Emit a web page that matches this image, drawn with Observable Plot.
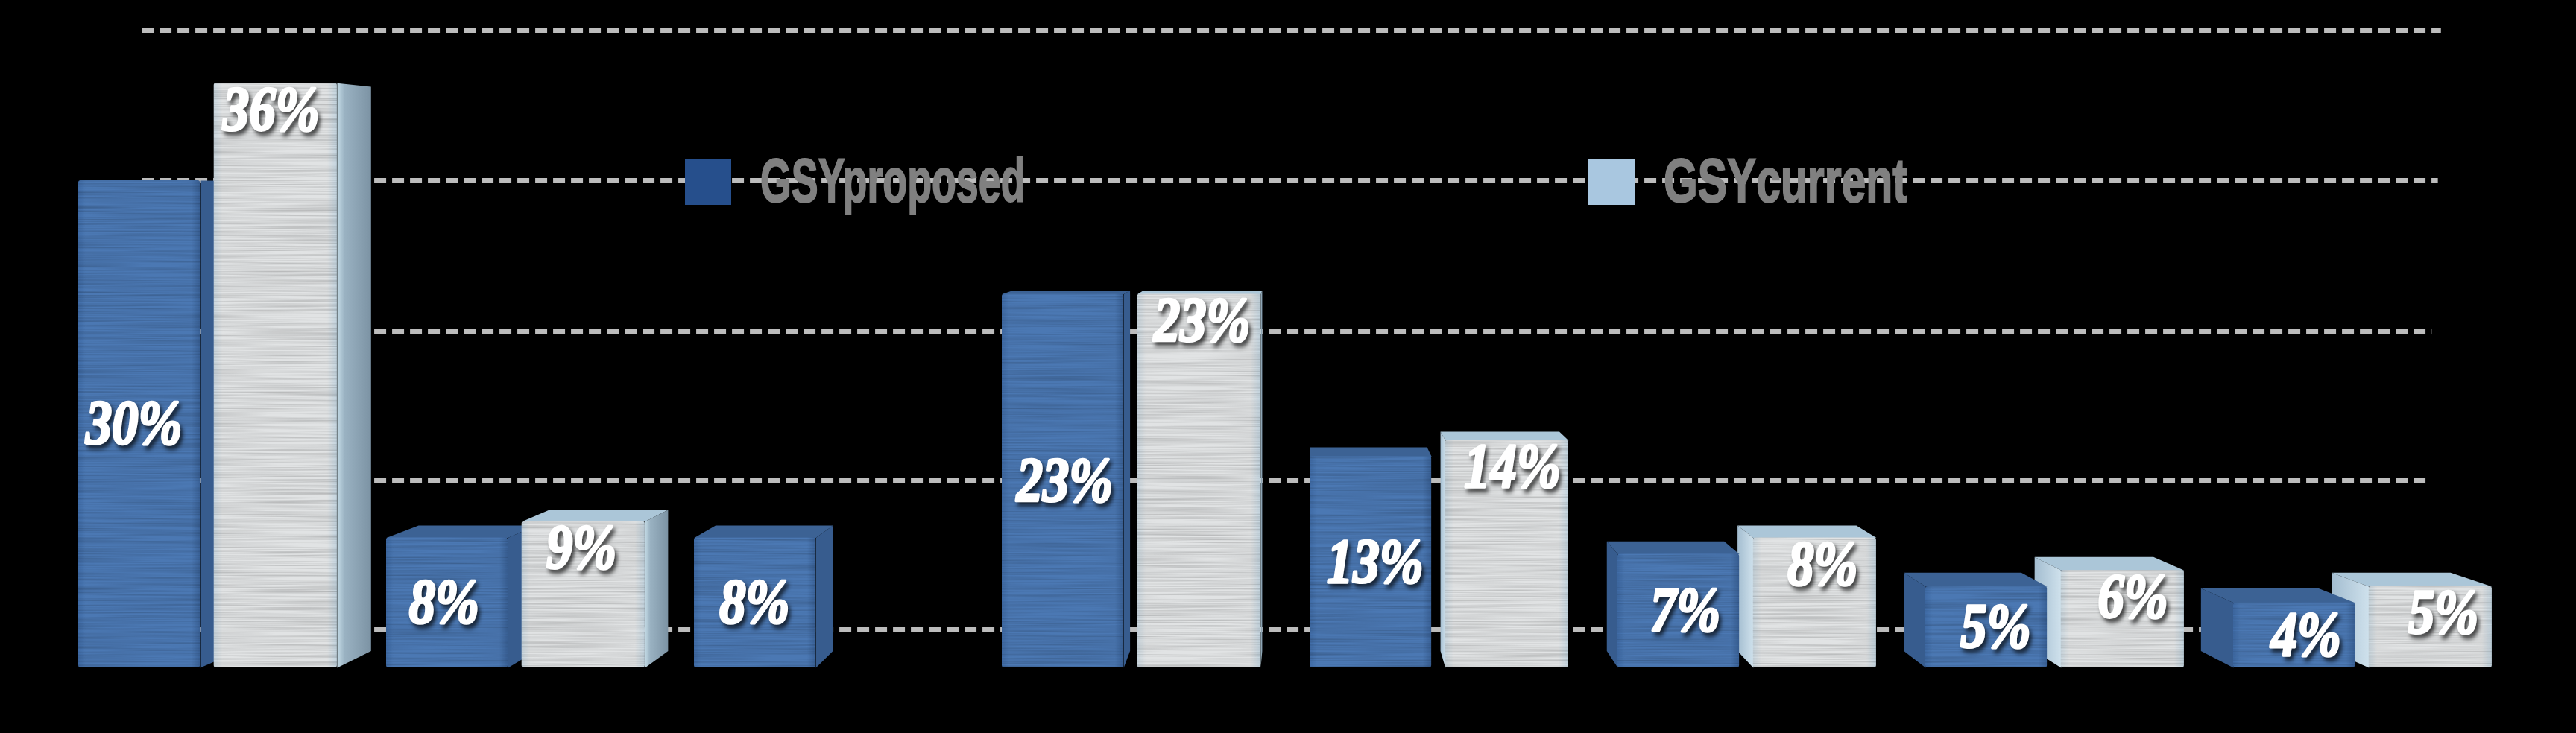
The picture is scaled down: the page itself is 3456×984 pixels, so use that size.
<!DOCTYPE html>
<html><head><meta charset="utf-8">
<script src="https://cdn.jsdelivr.net/npm/d3@7"></script>
<script src="https://cdn.jsdelivr.net/npm/@observablehq/plot@0.6"></script>
<style>
html,body{margin:0;background:#000;overflow:hidden;width:3456px;height:984px}
#wrap{position:relative;width:3456px;height:984px}
.front{filter:url(#tex)}
.lab text{filter:drop-shadow(4px 5px 3px rgba(0,0,0,.7))}
.sw{position:absolute;top:213px;width:62px;height:62px}
.lg{position:absolute;top:192px;font:bold 84px "Liberation Sans",sans-serif;color:#808080;transform-origin:0 0;white-space:nowrap;line-height:1.2;-webkit-text-stroke:2px #808080}
</style></head><body>
<svg width="0" height="0" style="position:absolute"><defs>
<filter id="tex" x="0" y="0" width="1" height="1" color-interpolation-filters="sRGB">
<feTurbulence type="fractalNoise" baseFrequency="0.006 0.5" numOctaves="2" seed="4" result="n"/>
<feColorMatrix in="n" type="matrix" values="0 0 0 0 0 0 0 0 0 0 0 0 0 0 0 0.36 0 0 0 -0.13" result="d"/>
<feComposite in="d" in2="SourceAlpha" operator="in" result="dk"/>
<feMerge><feMergeNode in="SourceGraphic"/><feMergeNode in="dk"/></feMerge>
</filter>
<linearGradient id="lightR"><stop offset="0" stop-color="#c4dbe6"/><stop offset=".22" stop-color="#9ab2c2"/><stop offset="1" stop-color="#7c93a4"/></linearGradient>
<linearGradient id="lightL"><stop offset="0" stop-color="#a3bdd0"/><stop offset="1" stop-color="#cfe1ec"/></linearGradient>
<linearGradient id="blueF"><stop offset="0" stop-color="#3f6ba6"/><stop offset=".06" stop-color="#4b78b3"/><stop offset=".93" stop-color="#4b78b3"/><stop offset="1" stop-color="#3a6298"/></linearGradient>
<linearGradient id="lightF"><stop offset="0" stop-color="#c9d6de"/><stop offset=".07" stop-color="#e1e3e4"/><stop offset=".92" stop-color="#e1e3e4"/><stop offset="1" stop-color="#c2d3de"/></linearGradient>
</defs></svg>
<div id="wrap"></div>
<script>
const proposed = [30, 8, 8, 23, 13, 7, 5, 4];
const current = [36, 9, null, 23, 14, 8, 6, 5];
const gridValues = [39.27, 30, 20.69, 11.51, 2.34];
const gridStart = [0.206, 0.206, 0.206, 0.206, 0.206];
const gridEnd = [7.675, 7.665, 7.645, 7.63, 7.62];
const seriesSpan = {proposed: [0, 0.395], current: [0.44, 0.84]};
const vanish = {x: 3.98, y: 29.6, k: 0.035};
const look = {
  proposed: {front: "url(#blueF)", side: "#375c8e", top: "#3c6294"},
  current: {front: "url(#lightF)", right: "url(#lightR)", left: "url(#lightL)", top: "#abc6d8"}
};

const bars = [];
proposed.forEach((v, i) => bars.push({s: "proposed", i, v}));
current.forEach((v, i) => { if (v != null) bars.push({s: "current", i, v}); });
bars.forEach(b => {
  b.x1 = b.i + seriesSpan[b.s][0];
  b.x2 = b.i + seriesSpan[b.s][1];
  b.cx = (b.x1 + b.x2) / 2;
  b.lx = b.cx + (b.cx - vanish.x) * 0.008;
  b.ly = b.s === "proposed" ? b.v / 2 : b.v - 1.65;
  b.label = b.v + "%";
});
const bx = x => x + (vanish.x - x) * vanish.k;
const by = y => y + (vanish.y - y) * vanish.k;
// paint from the outside towards the vanishing point
bars.sort((a, b) => Math.abs(b.cx - vanish.x) - Math.abs(a.cx - vanish.x));

function poly(pts) { return pts.map(([x, y]) => ({x, y})); }
const faces = bars.flatMap(b => {
  const L = look[b.s], out = [];
  const face = (pts, fill) => out.push(Plot.line(poly(pts), {x: "x", y: "y", fill, stroke: "none", curve: "linear-closed"}));
  if (b.v < vanish.y) {
    face([[b.x1, b.v], [b.x2, b.v], [bx(b.x2), by(b.v)], [bx(b.x1), by(b.v)]], L.top);
  }
  if (b.x2 < vanish.x) {
    face([[b.x2, 0], [b.x2, b.v], [bx(b.x2), by(b.v)], [bx(b.x2), by(0)]], L.side || L.right);
  }
  if (b.x1 > vanish.x) {
    face([[b.x1, 0], [b.x1, b.v], [bx(b.x1), by(b.v)], [bx(b.x1), by(0)]], L.side || L.left);
  }
  out.push(Plot.rect([b], {x1: "x1", x2: "x2", y1: 0, y2: "v", fill: L.front, r: 3, className: "front"}));
  return out;
});

const grid = gridValues.map((v, i) => ({v, x1: gridStart[i], x2: gridEnd[i]}));

const chart = Plot.plot({
  width: 3456, height: 984,
  marginTop: 0, marginRight: 0, marginBottom: 0, marginLeft: 0,
  style: {background: "#000"},
  x: {domain: [0, 8], range: [105, 3409], axis: null},
  y: {domain: [0, 40], range: [896, 24], axis: null},
  marks: [
    Plot.ruleY(grid, {y: "v", x1: "x1", x2: "x2", stroke: "#bcbcbc", strokeWidth: 7, strokeDasharray: "16,8"}),
    ...faces,
    Plot.text(bars, {x: "lx", y: "ly", dx: 5, text: "label", fill: "#fff", stroke: "#fff", strokeWidth: 3.5, strokeLinejoin: "round",
      fontSize: 84, fontWeight: 700, fontStyle: "italic", fontFamily: "Liberation Serif", className: "lab"})
  ]
});
const wrap = document.getElementById("wrap");
wrap.appendChild(chart);
d3.select(chart).selectAll(".lab text").each(function() {
  const t = this.getAttribute("transform");
  if (t) this.setAttribute("transform", t + " scale(.84,1)");
});
const legend = [
  {name: "GSYproposed", color: "#264f8c", sx: 919, tx: 1020, sq: .64},
  {name: "GSYcurrent", color: "#a9c7e0", sx: 2131, tx: 2232, sq: .70}
];
legend.forEach(l => {
  const s = document.createElement("div"); s.className = "sw";
  s.style.left = l.sx + "px"; s.style.background = l.color; wrap.appendChild(s);
  const t = document.createElement("div"); t.className = "lg";
  t.style.left = l.tx + "px"; t.style.transform = `scaleX(${l.sq})`; t.textContent = l.name; wrap.appendChild(t);
});
</script></body></html>
